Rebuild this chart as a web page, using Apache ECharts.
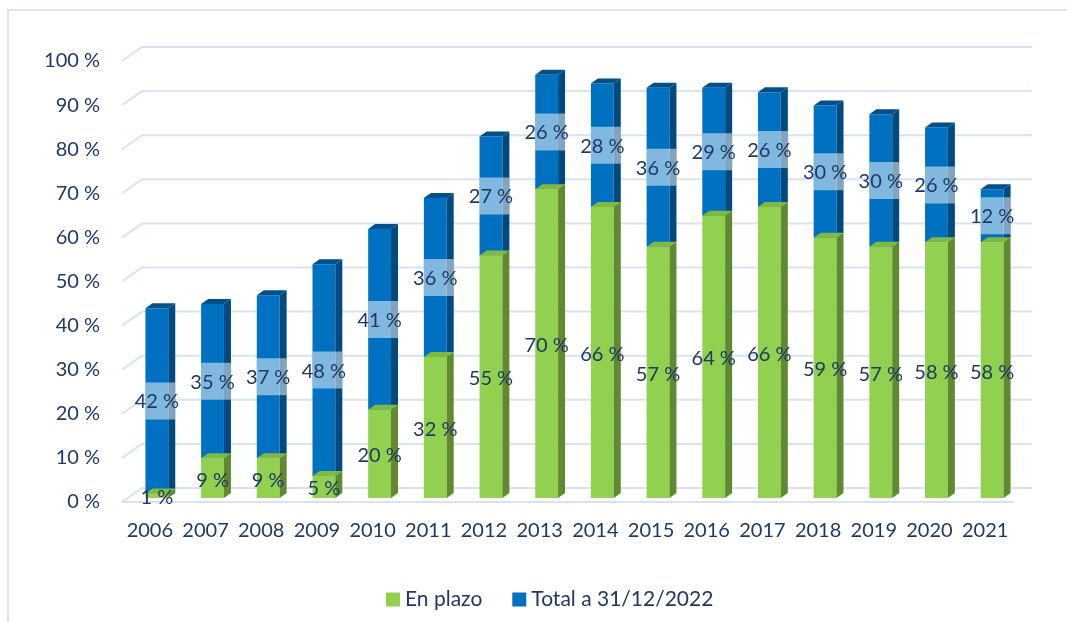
<!DOCTYPE html>
<html>
<head>
<meta charset="utf-8">
<style>
  html, body { margin: 0; padding: 0; background: #fff; }
  #chart { width: 1067px; height: 622px; }
</style>
<script src="https://cdn.jsdelivr.net/npm/echarts@6/dist/echarts.min.js"></script>
</head>
<body>
<div id="chart"></div>
<script>
const years = ['2006', '2007', '2008', '2009', '2010', '2011', '2012', '2013',
  '2014', '2015', '2016', '2017', '2018', '2019', '2020', '2021']
const enPlazo = [1, 9, 9, 5, 20, 32, 55, 70, 66, 57, 64, 66, 59, 57, 58, 58]
const resto = [42, 35, 37, 48, 41, 36, 27, 26, 28, 36, 29, 26, 30, 30, 26, 12]
const yTicks = [0, 10, 20, 30, 40, 50, 60, 70, 80, 90, 100]

const navy = '#203864'
const gridColor = '#d7e3f3'
const font = 'Lato'
const depthX = 7
const depthY = 5

const chart = echarts.init(document.getElementById('chart'))

// caras de una columna (frontal, lateral, superior)
function faces(api, i, from, to, front, side, topColor) {
  const pb = api.coord([i, from])
  const pt = api.coord([i, to])
  const w = api.size([1, 0])[0] * 0.41
  const xl = pb[0] - w / 2
  const xr = pb[0] + w / 2
  const els = [
    { type: 'rect', shape: { x: xl, y: pt[1], width: w, height: pb[1] - pt[1] }, style: { fill: front } },
    {
      type: 'polygon',
      shape: { points: [[xr, pb[1]], [xr + depthX, pb[1] - depthY], [xr + depthX, pt[1] - depthY], [xr, pt[1]]] },
      style: { fill: side },
    },
  ]
  if (topColor) {
    els.push({
      type: 'polygon',
      shape: { points: [[xl, pt[1]], [xl + depthX, pt[1] - depthY], [xr + depthX, pt[1] - depthY], [xr, pt[1]]] },
      style: { fill: topColor },
    })
  }
  return { els, xl, xr, w, cx: pb[0], cy: (pb[1] + pt[1]) / 2 }
}

function label(text, x, y) {
  return {
    type: 'text',
    style: { text, x, y, align: 'center', verticalAlign: 'middle', fill: navy, fontSize: 20, fontFamily: font },
  }
}

const option = {
  backgroundColor: '#fff',
  animation: false,
  graphic: [
    {
      type: 'polyline',
      shape: { points: [[8, 622], [8, 10], [1067, 10]] },
      style: { stroke: gridColor, lineWidth: 2, fill: null },
    },
  ],
  legend: {
    left: 381,
    top: 584,
    itemWidth: 14,
    itemHeight: 14,
    itemGap: 30,
    icon: 'rect',
    textStyle: { color: navy, fontSize: 21, fontFamily: font },
    data: ['En plazo', 'Total a 31/12/2022'],
  },
  grid: [
    { left: 122, right: 54, top: 61, bottom: 120 },
    { left: 129, right: 47, top: 57, bottom: 124 },
  ],
  xAxis: [
    {
      gridIndex: 0,
      type: 'category',
      data: years,
      axisLine: { lineStyle: { color: gridColor, width: 2 } },
      axisTick: { show: false },
      axisLabel: { color: navy, fontSize: 20, fontFamily: font, margin: 19, interval: 0 },
    },
    { gridIndex: 1, type: 'category', data: years, show: false },
  ],
  yAxis: [
    {
      gridIndex: 0,
      type: 'value',
      min: 0,
      max: 100,
      interval: 10,
      axisLine: { show: false },
      axisTick: { show: false },
      splitLine: { show: false },
      axisLabel: { color: navy, fontSize: 20, fontFamily: font, margin: 22, formatter: '{value} %' },
    },
    { gridIndex: 1, type: 'value', min: 0, max: 100, show: false, splitLine: { show: false } },
  ],
  series: [
    {
      type: 'custom',
      name: 'grid',
      xAxisIndex: 0,
      yAxisIndex: 0,
      silent: true,
      z: 1,
      data: yTicks.map((v) => [0, v]),
      renderItem(params, api) {
        const y = api.coord([0, api.value(1)])[1]
        const cs = params.coordSys
        return {
          type: 'polyline',
          shape: { points: [[cs.x, y], [cs.x + 20, y - 14], [cs.x + cs.width + 19, y - 14]] },
          style: { stroke: gridColor, lineWidth: 2, fill: null },
        }
      },
    },
    {
      type: 'custom',
      name: 'Total a 31/12/2022',
      xAxisIndex: 1,
      yAxisIndex: 1,
      z: 2,
      itemStyle: { color: '#0070c0' },
      data: years.map((y, i) => [i, enPlazo[i], resto[i]]),
      renderItem(params, api) {
        const i = api.value(0)
        const g = api.value(1)
        const b = api.value(2)
        const f = faces(api, i, g, g + b, '#0070c0', '#004a80', '#00508c')
        f.els.push({
          type: 'rect',
          shape: { x: f.xl, y: f.cy - 18.5, width: f.w + depthX, height: 37 },
          style: { fill: 'rgba(255,255,255,0.5)' },
        })
        f.els.push(label(b + ' %', f.cx, f.cy + 1))
        return { type: 'group', children: f.els }
      },
    },
    {
      type: 'custom',
      name: 'En plazo',
      xAxisIndex: 1,
      yAxisIndex: 1,
      z: 3,
      itemStyle: { color: '#92d050' },
      data: years.map((y, i) => [i, enPlazo[i]]),
      renderItem(params, api) {
        const i = api.value(0)
        const g = api.value(1)
        const f = faces(api, i, 0, g, '#92d050', '#5f8a30', '#7fb843')
        f.els.push(label(g + ' %', f.cx, f.cy + 2))
        return { type: 'group', children: f.els }
      },
    },
  ],
}

chart.setOption(option)
</script>
</body>
</html>
